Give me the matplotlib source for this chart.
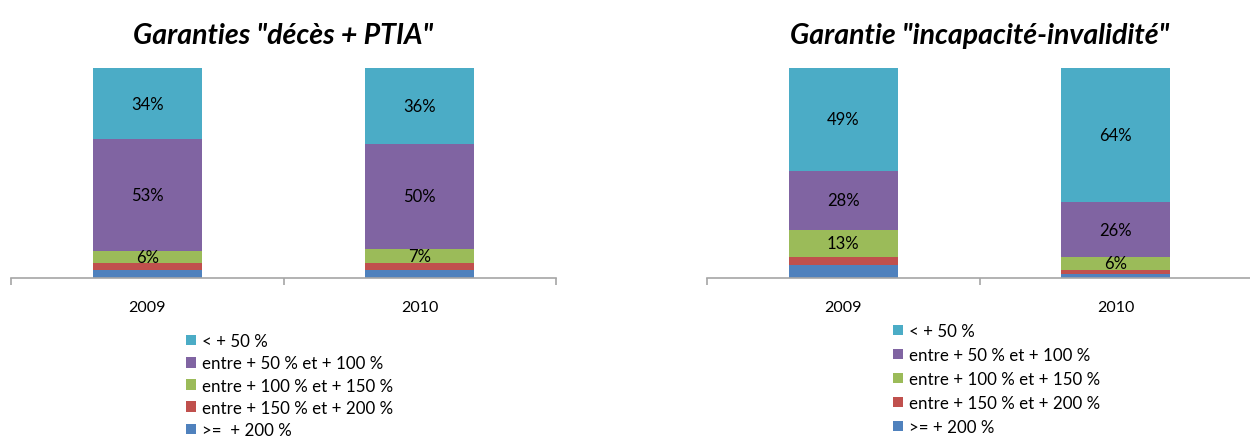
import matplotlib
matplotlib.use("Agg")
import matplotlib.pyplot as plt
from matplotlib.patches import Patch
import numpy as np

plt.rcParams['font.family'] = ['Lato', 'DejaVu Sans']

years = ['2009', '2010']
series_labels_left = ['>=  + 200 %', 'entre + 150 % et + 200 %', 'entre + 100 % et + 150 %',
                      'entre + 50 % et + 100 %', '< + 50 %']
series_labels_right = ['>= + 200 %', 'entre + 150 % et + 200 %', 'entre + 100 % et + 150 %',
                       'entre + 50 % et + 100 %', '< + 50 %']
colors = ['#4F81BD', '#C0504D', '#9BBB59', '#8064A2', '#4BACC6']

# Garanties "décès + PTIA" (bottom -> top)
deces_ge200 = [4, 4]
deces_150_200 = [3, 3]
deces_100_150 = [6, 7]
deces_50_100 = [53, 50]
deces_lt50 = [34, 36]

# Garantie "incapacité-invalidité"
incap_ge200 = [6, 2]
incap_150_200 = [4, 2]
incap_100_150 = [13, 6]
incap_50_100 = [28, 26]
incap_lt50 = [49, 64]

titles = ['Garanties "décès + PTIA"', 'Garantie "incapacité-invalidité"']

fig = plt.figure(figsize=(12.5, 4.39), dpi=100)
W, H = 1250, 439
axL = fig.add_axes([11 / W, (H - 279) / H, 545 / W, 210 / H])
axR = fig.add_axes([707 / W, (H - 279) / H, 545 / W, 210 / H])

datasets = [
    [deces_ge200, deces_150_200, deces_100_150, deces_50_100, deces_lt50],
    [incap_ge200, incap_150_200, incap_100_150, incap_50_100, incap_lt50],
]

x = np.arange(len(years))
for ax, data, title in zip([axL, axR], datasets, titles):
    bottom = np.zeros(len(years))
    for i, (vals, col) in enumerate(zip(data, colors)):
        bars = ax.bar(x, vals, width=0.4, bottom=bottom, color=col, edgecolor='none')
        if i >= 2:
            ax.bar_label(bars, labels=[f'{v:.0f}%' for v in vals], label_type='center',
                         fontsize=12, color='black')
        bottom += np.array(vals, dtype=float)
    ax.set_xlim(-0.5, 1.5)
    ax.set_ylim(0, 100)
    for s in ['top', 'left', 'right']:
        ax.spines[s].set_visible(False)
    ax.spines['bottom'].set_color('#A6A6A6')
    ax.spines['bottom'].set_linewidth(1.2)
    ax.set_yticks([])
    ax.set_xticks(x)
    ax.set_xticklabels(years, fontsize=11.5)
    ax.tick_params(axis='x', which='major', length=0, pad=16)
    ax.set_xticks([-0.5, 0.5, 1.5], minor=True)
    ax.tick_params(axis='x', which='minor', length=5, width=1.2, color='#A6A6A6', direction='out')
    ax.set_title(title, fontsize=20.5, fontweight='bold', fontstyle='italic', pad=18)

for labels, xleft, ytop, lsp in [(series_labels_left, 186 / W, 1 - 334 / H, 0.37),
                                 (series_labels_right, 893 / W, 1 - 324 / H, 0.47)]:
    handles = [Patch(facecolor=c, edgecolor='none') for c in colors[::-1]]
    fig.legend(handles, labels[::-1], loc='upper left', bbox_to_anchor=(xleft, ytop),
               frameon=False, fontsize=12.2, handlelength=0.6, handleheight=0.6,
               handletextpad=0.35, labelspacing=lsp, borderpad=0, borderaxespad=0)

fig.savefig('out.png', dpi=100)
